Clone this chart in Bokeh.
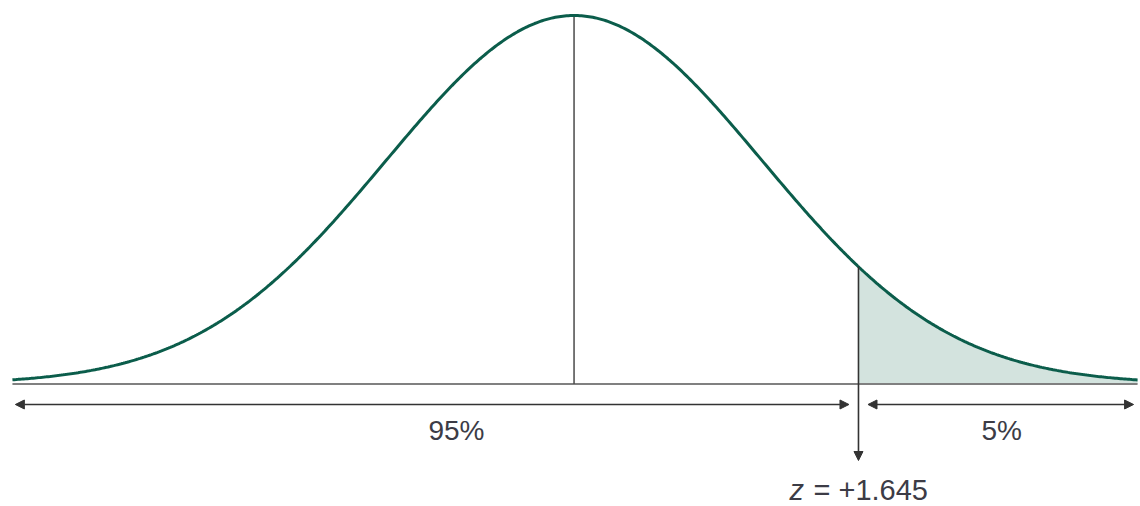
import numpy as np
from bokeh.plotting import figure
from bokeh.models import Arrow, NormalHead, ColumnDataSource, Range1d
from bokeh.core.properties import value
from bokeh.embed import file_html
from bokeh.resources import INLINE

# ---- data ----
z_cut = 1.645
sigma = 1.087           # spread of the drawn bell curve (in z units)
z_min, z_max = -3.248, 3.259
labels = ["95%", "5%"]
label_x = [-0.68, 2.473]
z_label = "= +1.645"

FONT = "Liberation Sans"
TXT = "#3c3c46"

z = np.linspace(z_min, z_max, 600)
dens = np.exp(-z**2 / (2 * sigma**2))
dens_cut = float(np.exp(-z_cut**2 / (2 * sigma**2)))

W, H = 1140, 506
p = figure(width=W, height=H, output_backend="svg", toolbar_location=None,
           x_range=Range1d(-3.317, 3.276), y_range=Range1d(-0.3324, 1.0407),
           min_border=0)
p.axis.visible = False
p.xgrid.visible = False
p.ygrid.visible = False
p.outline_line_color = None
p.background_fill_color = "white"
p.border_fill_color = "white"

# shaded tail
mask = z >= z_cut
zt = np.concatenate([[z_cut], z[mask]])
dt = np.concatenate([[dens_cut], dens[mask]])
p.varea(x=zt, y1=np.zeros_like(zt), y2=dt, fill_color="#d3e3de")

# baseline
p.line(x=[z_min, z_max], y=[0, 0], line_color="#808080", line_width=2.2)
# centre line
p.line(x=[0, 0], y=[0, 1], line_color="#4a4a4a", line_width=1.5)

# bell curve
p.line(x=z, y=dens, line_color="#0b5d4b", line_width=3)

# cut line with downward arrow
head = dict(size=9, fill_color="#333333", line_color="#333333")
p.add_layout(Arrow(end=NormalHead(**head), x_start=z_cut, y_start=dens_cut,
                   x_end=z_cut, y_end=-0.2076, line_color="#333333", line_width=1.6))

# horizontal double arrows
ya = -0.0556
gap = 0.055
p.add_layout(Arrow(start=NormalHead(**head), end=NormalHead(**head),
                   x_start=z_min + 0.017, y_start=ya, x_end=z_cut - gap, y_end=ya,
                   line_color="#333333", line_width=1.6))
p.add_layout(Arrow(start=NormalHead(**head), end=NormalHead(**head),
                   x_start=z_cut + gap, y_start=ya, x_end=z_max - 0.023, y_end=ya,
                   line_color="#333333", line_width=1.6))

# labels
src = ColumnDataSource(dict(x=label_x, y=[-0.1262] * 2, t=labels))
p.text(x="x", y="y", text="t", source=src, text_font=value(FONT),
       text_font_size="28px", text_align="center", text_baseline="middle",
       text_color=TXT)

p.text(x=[z_cut], y=[-0.2863], text=["z"], x_offset=-69, text_font=value(FONT),
       text_font_style="italic", text_font_size="29px", text_align="left",
       text_baseline="middle", text_color=TXT)
p.text(x=[z_cut], y=[-0.2863], text=[z_label], x_offset=-45, text_font=value(FONT),
       text_font_size="29px", text_align="left", text_baseline="middle",
       text_color=TXT)

open("out.html", "w").write(file_html(p, INLINE))
